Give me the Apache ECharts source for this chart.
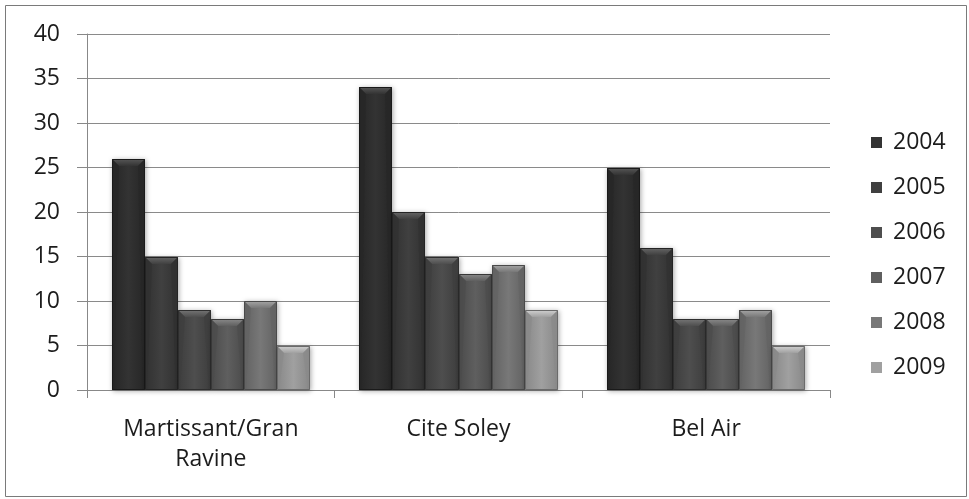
<!DOCTYPE html>
<html>
<head>
<meta charset="utf-8">
<script src="https://cdn.jsdelivr.net/npm/echarts@6/dist/echarts.min.js"></script>
<style>
  html, body { margin: 0; padding: 0; background: #fff; }
  #chart { width: 969px; height: 499px; }
</style>
</head>
<body>
<div id="chart"></div>
<script>
// Neighbourhoods along the x axis
const categories = ['Martissant/Gran\nRavine', 'Cite Soley', 'Bel Air'];
// One series per year
const years = ['2004', '2005', '2006', '2007', '2008', '2009'];
const values2004 = [26, 34, 25];
const values2005 = [15, 20, 16];
const values2006 = [9, 15, 8];
const values2007 = [8, 13, 8];
const values2008 = [10, 14, 9];
const values2009 = [5, 9, 5];
const yearValues = [values2004, values2005, values2006, values2007, values2008, values2009];
// Y axis ticks
const yTicks = [0, 5, 10, 15, 20, 25, 30, 35, 40];

// Gray shades per year: face, bevel top, bevel sides, outline
const shades = [
  { face: '#333333', top: '#575757', side: '#262626', line: '#1a1a1a' },
  { face: '#404040', top: '#666666', side: '#313131', line: '#242424' },
  { face: '#4e4e4e', top: '#767676', side: '#3d3d3d', line: '#2e2e2e' },
  { face: '#5f5f5f', top: '#8a8a8a', side: '#4b4b4b', line: '#383838' },
  { face: '#787878', top: '#a6a6a6', side: '#626262', line: '#4a4a4a' },
  { face: '#a0a0a0', top: '#d2d2d2', side: '#888888', line: '#6a6a6a' }
];

const GROUP_FILL = 0.8;   // share of each category band covered by the bar group
const BEVEL = 7;          // bevel depth in pixels

function bevelBar(seriesIndex) {
  const c = shades[seriesIndex];
  return function (params, api) {
    const cat = api.value(0);
    const val = api.value(1);
    const topPt = api.coord([cat, val]);
    const basePt = api.coord([cat, 0]);
    const band = api.size([1, 0])[0];
    const w = band * GROUP_FILL / years.length;
    const x = Math.round(topPt[0] - band * GROUP_FILL / 2 + seriesIndex * w);
    const x2 = Math.round(topPt[0] - band * GROUP_FILL / 2 + (seriesIndex + 1) * w);
    const y = Math.round(topPt[1]);
    const yb = Math.round(basePt[1]);
    const bw = x2 - x;
    const b = Math.min(BEVEL, bw / 2, (yb - y) / 2);
    const faceFill = new echarts.graphic.LinearGradient(0, 0, 1, 0, [
      { offset: 0, color: c.side },
      { offset: 0.5, color: c.face },
      { offset: 1, color: c.side }
    ]);
    return {
      type: 'group',
      children: [
        {
          type: 'rect',
          shape: { x: x, y: y, width: bw, height: yb - y },
          style: {
            fill: faceFill,
            shadowColor: 'rgba(0,0,0,0.35)',
            shadowBlur: 5,
            shadowOffsetX: 1,
            shadowOffsetY: 1
          }
        },
        {
          type: 'polygon',
          shape: { points: [[x, y], [x2, y], [x2 - b, y + b], [x + b, y + b]] },
          style: {
            fill: new echarts.graphic.LinearGradient(0, 0, 0, 1, [
              { offset: 0, color: c.top },
              { offset: 1, color: c.face }
            ])
          }
        },
        {
          type: 'polygon',
          shape: { points: [[x, y], [x + b, y + b], [x + 2, yb], [x, yb]] },
          style: { fill: c.side, opacity: 0.6 }
        },
        {
          type: 'polygon',
          shape: { points: [[x2, y], [x2 - b, y + b], [x2 - 2, yb], [x2, yb]] },
          style: { fill: c.side, opacity: 0.6 }
        },
        {
          type: 'rect',
          shape: { x: x + 0.5, y: y + 0.5, width: bw - 1, height: yb - y - 1 },
          style: { fill: 'none', stroke: c.line, lineWidth: 1 }
        }
      ]
    };
  };
}

const series = years.map((y, i) => ({
  name: y,
  type: 'custom',
  renderItem: bevelBar(i),
  encode: { x: 0, y: 1 },
  itemStyle: { color: shades[i].face },
  data: yearValues[i].map((v, k) => [k, v]),
  z: 3
}));

const chart = echarts.init(document.getElementById('chart'), null, { renderer: 'canvas' });
const font = '"Open Sans", "Noto Sans", sans-serif';
const ink = '#1c1c1c';

chart.setOption({
  animation: false,
  backgroundColor: '#ffffff',
  textStyle: { fontFamily: font },
  graphic: [{
    type: 'rect',
    shape: { x: 5.5, y: 5.5, width: 961, height: 491 },
    style: { fill: 'none', stroke: '#7a7a7a', lineWidth: 1 },
    z: 0
  }],
  grid: { left: 87, right: 139, top: 34, bottom: 109, containLabel: false },
  legend: {
    orient: 'vertical',
    left: 871,
    top: 131,
    padding: 0,
    itemWidth: 11,
    itemHeight: 11,
    itemGap: 22,
    icon: 'rect',
    textStyle: { fontSize: 23, lineHeight: 22, color: ink, fontFamily: font, padding: [0, 0, 0, 6] },
    data: years
  },
  xAxis: {
    type: 'category',
    data: categories,
    axisLine: { lineStyle: { color: '#888', width: 1 } },
    axisTick: { show: true, length: 8, lineStyle: { color: '#888' } },
    axisLabel: { fontSize: 23, color: ink, margin: 24, lineHeight: 30, fontFamily: font },
    splitLine: { show: false }
  },
  yAxis: {
    type: 'value',
    min: 0,
    max: 40,
    interval: 5,
    axisLine: { show: true, lineStyle: { color: '#888', width: 1 } },
    axisTick: { show: true, length: 10, lineStyle: { color: '#888' } },
    axisLabel: {
      fontSize: 23, color: ink, margin: 27, fontFamily: font,
      formatter: v => (yTicks.includes(v) ? String(v) : '')
    },
    splitLine: { lineStyle: { color: '#8a8a8a', width: 1 } }
  },
  series: series
});
</script>
</body>
</html>
